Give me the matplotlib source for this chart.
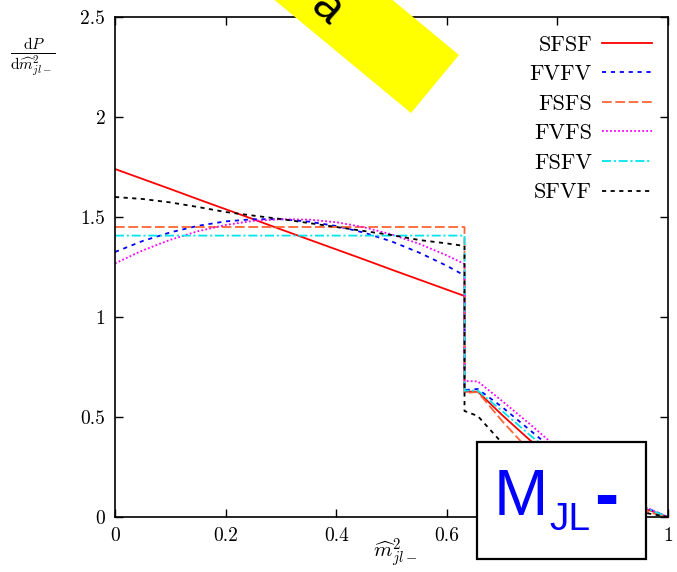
import matplotlib
matplotlib.use("Agg")
import matplotlib.pyplot as plt
from matplotlib.patches import Polygon, Rectangle

plt.rcParams["font.family"] = "serif"
plt.rcParams["font.serif"] = ["cmr10"]
plt.rcParams["mathtext.fontset"] = "cm"
plt.rcParams["axes.formatter.use_mathtext"] = True
plt.rcParams["lines.scale_dashes"] = False

# ---- data -------------------------------------------------------------
# below the edge (m^2 < 0.632) and above it (down to the endpoint)
x_low = [0.0, 0.05, 0.1, 0.15, 0.2, 0.25, 0.3, 0.35, 0.4, 0.45, 0.5, 0.55,
         0.6, 0.632]
x_high = [0.632, 0.656, 0.70, 0.75, 0.80, 0.85, 0.90, 0.95, 1.0]

sfsf_low = [1.74, 1.69, 1.64, 1.589, 1.539, 1.489, 1.438, 1.388, 1.338,
            1.288, 1.237, 1.187, 1.137, 1.105]
sfsf_high = [0.627, 0.627, 0.51, 0.385, 0.28, 0.19, 0.115, 0.05, 0.0]

fvfv_low = [1.325, 1.380, 1.423, 1.456, 1.478, 1.489, 1.489, 1.477, 1.455,
            1.422, 1.378, 1.322, 1.256, 1.208]
fvfv_high = [0.635, 0.64, 0.55, 0.435, 0.32, 0.22, 0.13, 0.058, 0.0]

fsfs_low = [1.45] * 14
fsfs_high = [0.62, 0.625, 0.48, 0.33, 0.22, 0.14, 0.08, 0.035, 0.0]

fvfs_low = [1.268, 1.333, 1.386, 1.429, 1.460, 1.481, 1.489, 1.487, 1.474,
            1.449, 1.413, 1.366, 1.308, 1.265]
fvfs_high = [0.68, 0.678, 0.58, 0.465, 0.345, 0.235, 0.14, 0.06, 0.0]

fsfv_low = [1.407] * 14
fsfv_high = [0.632, 0.632, 0.53, 0.41, 0.30, 0.205, 0.125, 0.055, 0.0]

sfvf_low = [1.60, 1.59, 1.573, 1.55, 1.525, 1.507, 1.49, 1.47, 1.45, 1.43,
            1.41, 1.385, 1.368, 1.355]
sfvf_high = [0.53, 0.505, 0.37, 0.26, 0.17, 0.105, 0.06, 0.025, 0.0]

labels = ["SFSF", "FVFV", "FSFS", "FVFS", "FSFV", "SFVF"]
x_ticks = [0, 0.2, 0.4, 0.6, 0.8, 1]
x_ticklabels = ["0", "0.2", "0.4", "0.6", "0.8", "1"]
y_ticks = [0, 0.5, 1, 1.5, 2, 2.5]
y_ticklabels = ["0", "0.5", "1", "1.5", "2", "2.5"]

# ---- figure ------------------------------------------------------------
W, H = 677, 572
fig = plt.figure(figsize=(W / 100, H / 100), dpi=100)
ax = fig.add_axes([115 / W, 55 / H, 553 / W, 500 / H])


def fpos(x, y):
    """pixel position (from top-left) -> figure fraction"""
    return x / W, 1 - y / H


series = [
    (sfsf_low, sfsf_high, "#ff0000", "-"),
    (fvfv_low, fvfv_high, "#0000ff", (0, (3.0, 3.4))),
    (fsfs_low, fsfs_high, "#ff6633", (0, (7.0, 2.6))),
    (fvfs_low, fvfs_high, "#ff00ff", (0, (1.3, 1.6))),
    (fsfv_low, fsfv_high, "#00e5ee", (0, (6.5, 2.0, 1.5, 2.0))),
    (sfvf_low, sfvf_high, "#000000", (0, (3.0, 3.2))),
]

for (lo, hi, col, ls), lab in zip(series, labels):
    ax.plot(x_low + x_high, lo + hi, color=col, linestyle=ls, lw=1.3, label=lab)

ax.set_xlim(0, 1)
ax.set_ylim(0, 2.5)
ax.set_xticks(x_ticks)
ax.set_xticklabels(x_ticklabels)
ax.set_yticks(y_ticks)
ax.set_yticklabels(y_ticklabels)
ax.tick_params(direction="in", length=6, width=1, top=True, right=True,
               labelsize=14, pad=7)
for s in ax.spines.values():
    s.set_linewidth(1.2)

leg = ax.legend(loc="upper right", bbox_to_anchor=fpos(652, 35),
                bbox_transform=fig.transFigure, frameon=False, markerfirst=False,
                fontsize=16, handlelength=2.25, handletextpad=0.45,
                labelspacing=0.45, borderpad=0, borderaxespad=0)

# axis titles
fig.text(*fpos(33, 57), r"$\frac{\mathrm{d}P}{\mathrm{d}\widehat{m}^2_{jl-}}$",
         ha="center", va="center", fontsize=16)
fig.text(*fpos(395, 553), r"$\widehat{m}^2_{jl-}$", ha="center", va="center",
         fontsize=15)

# yellow banner across the top
dx, dy = -0.773, -0.640
B = (411, 113)
R = (459, 55)
T = (R[0] + 300 * dx, R[1] + 300 * dy)
L = (B[0] + 300 * dx, B[1] + 300 * dy)
banner = Polygon([fpos(*B), fpos(*R), fpos(*T), fpos(*L)], closed=True,
                 transform=fig.transFigure, facecolor="#ffff00",
                 edgecolor="none", zorder=10, clip_on=False)
fig.add_artist(banner)
fig.text(*fpos(327, 9), "a", rotation=-42, fontsize=34,
         family="Liberation Sans", ha="center", va="center",
         rotation_mode="anchor", zorder=11)

# label box in the lower right
box = Rectangle(fpos(477, 559), 169 / W, 117 / H, transform=fig.transFigure,
                facecolor="white", edgecolor="black", lw=1.6, zorder=10)
fig.add_artist(box)
fig.text(*fpos(494, 515), "M", fontsize=47, color="#0000ff",
         family="Liberation Sans", ha="left", va="baseline", zorder=11)
fig.text(*fpos(549, 530), "JL", fontsize=28, color="#0000ff",
         family="Liberation Sans", ha="left", va="baseline", zorder=11)
fig.text(*fpos(594, 518), "-", fontsize=52, color="#0000ff",
         family="Liberation Sans", fontweight="bold", ha="left",
         va="baseline", zorder=11)

fig.savefig("out.png", dpi=100)
